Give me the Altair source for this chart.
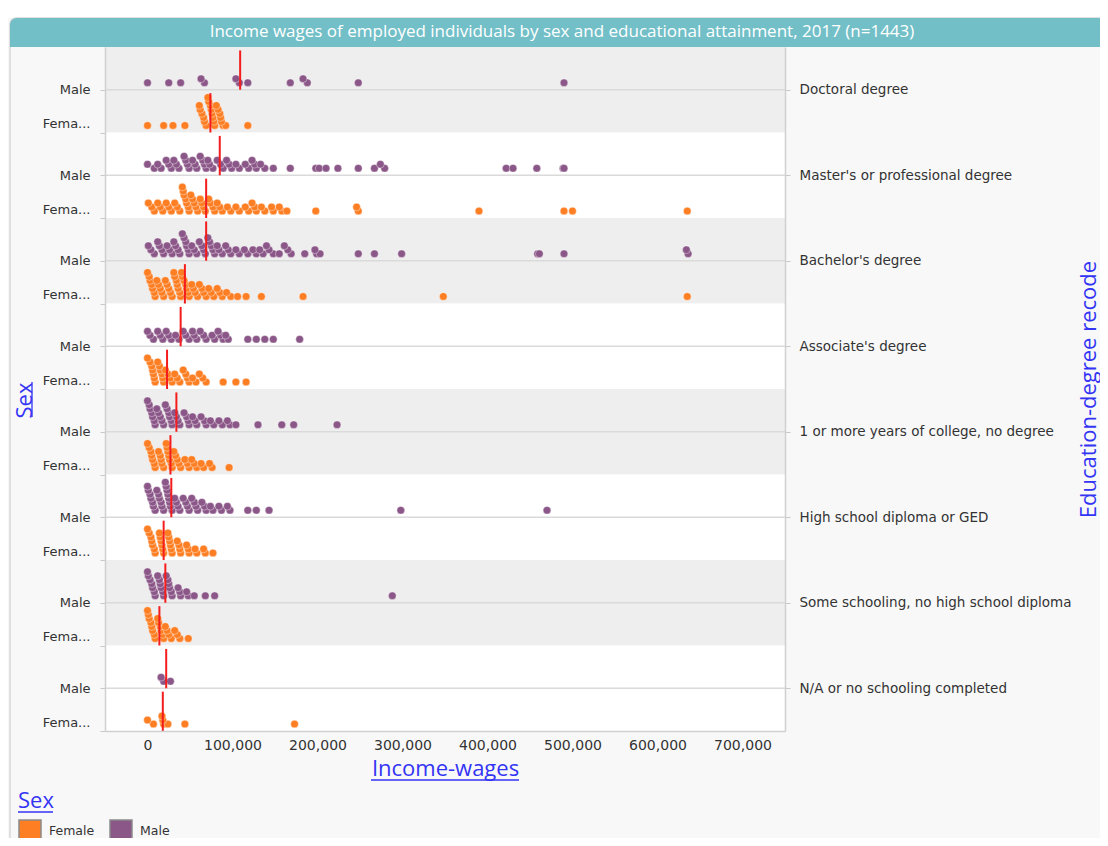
import json
import altair as alt
import pandas as pd

# ---------------- data (incomes in thousands of dollars) ----------------
EDU = [
    "Doctoral degree",
    "Master's or professional degree",
    "Bachelor's degree",
    "Associate's degree",
    "1 or more years of college, no degree",
    "High school diploma or GED",
    "Some schooling, no high school diploma",
    "N/A or no schooling completed",
]
SEX = ["Male", "Female"]

doc_m = [0, 25, 39, 63, 67, 104, 108, 118, 168, 183, 188, 248, 490]
doc_f = [0, 19, 30, 44, 61, 62, 64, 66, 67, 69, 71, 72, 74, 75, 76, 77, 78, 79,
         81, 83, 85, 86, 87, 89, 92, 118]
mas_m = [0, 8, 12, 16, 22, 25, 28, 31, 34, 37, 43, 45, 47, 49, 53, 56, 58, 62, 65,
         67, 69, 71, 73, 77, 82, 86, 89, 93, 96, 99, 104, 108, 115, 119, 123, 126,
         128, 133, 138, 148, 168, 198, 202, 210, 224, 248, 267, 274, 279, 422, 430,
         458, 489, 490]
mas_f = [1, 5, 8, 12, 15, 18, 22, 25, 28, 32, 35, 38, 41, 42, 43, 45, 46, 48, 49,
         51, 53, 55, 57, 59, 62, 64, 66, 68, 72, 74, 77, 79, 82, 85, 88, 94, 98,
         104, 108, 115, 119, 123, 126, 128, 134, 138, 146, 148, 155, 158, 164, 198,
         246, 248, 390, 490, 500, 635]
bac_m = [1, 4, 8, 12, 14, 17, 19, 23, 26, 29, 31, 33, 36, 38, 41, 43, 45, 46, 48,
         49, 52, 55, 58, 61, 64, 66, 68, 71, 73, 75, 77, 79, 82, 84, 88, 92, 95, 98,
         104, 108, 114, 118, 124, 128, 132, 136, 140, 143, 148, 155, 161, 165, 169,
         185, 197, 199, 203, 248, 267, 299, 459, 461, 490, 634, 636]
bac_f = [0, 2, 3, 5, 6, 8, 9, 11, 13, 15, 17, 19, 21, 23, 25, 27, 29, 31, 32, 34,
         35, 36, 38, 39, 40, 41, 43, 45, 46, 48, 49, 52, 54, 56, 59, 61, 64, 66, 69,
         72, 75, 78, 82, 85, 88, 93, 98, 106, 116, 134, 183, 348, 635]
aso_m = [0, 3, 7, 12, 15, 18, 22, 25, 28, 33, 37, 42, 45, 49, 53, 55, 58, 62, 66,
         69, 76, 79, 83, 86, 89, 92, 95, 118, 128, 138, 148, 179]
aso_f = [0, 3, 5, 6, 7, 8, 9, 12, 14, 15, 17, 18, 19, 21, 24, 27, 29, 32, 35, 38,
         42, 45, 47, 49, 53, 57, 61, 65, 69, 89, 104, 116]
col_m = [0, 2, 3, 5, 6, 8, 9, 11, 13, 15, 17, 19, 21, 23, 25, 26, 28, 29, 32, 34,
         36, 38, 43, 46, 48, 49, 53, 56, 58, 63, 67, 69, 74, 78, 84, 88, 94, 97,
         104, 130, 158, 172, 223]
col_f = [0, 2, 4, 5, 6, 8, 9, 13, 15, 16, 17, 19, 22, 23, 24, 25, 26, 28, 29, 31,
         33, 35, 37, 39, 44, 47, 49, 52, 55, 58, 63, 66, 73, 76, 96]
hs_m = [0, 1, 3, 4, 6, 7, 9, 11, 13, 14, 16, 17, 19, 21, 22, 23, 24, 25, 26, 27,
        29, 32, 34, 36, 38, 42, 45, 47, 49, 52, 55, 57, 59, 64, 67, 69, 74, 77, 84,
        87, 94, 97, 118, 128, 143, 298, 470]
hs_f = [0, 2, 4, 5, 6, 8, 9, 14, 15, 16, 17, 18, 19, 24, 25, 26, 27, 28, 29, 35,
        37, 38, 39, 46, 48, 49, 56, 58, 66, 68, 77]
some_m = [0, 1, 3, 5, 6, 8, 9, 12, 14, 15, 16, 18, 19, 22, 24, 25, 26, 28, 29, 36,
          38, 39, 46, 48, 55, 68, 79, 288]
some_f = [0, 1, 2, 4, 5, 6, 8, 9, 12, 13, 15, 16, 18, 19, 21, 23, 25, 28, 32, 35,
          38, 48]
na_m = [16, 19, 27]
na_f = [0, 7, 17, 18, 19, 24, 44, 173]

median_male = [109, 85, 69, 39, 34, 28, 21, 22]
median_female = [74, 69, 44, 23, 27, 19, 14, 18]

X_TICKS = [0, 100000, 200000, 300000, 400000, 500000, 600000, 700000]

GROUPS = [
    (doc_m, doc_f), (mas_m, mas_f), (bac_m, bac_f), (aso_m, aso_f),
    (col_m, col_f), (hs_m, hs_f), (some_m, some_f), (na_m, na_f),
]

# ---------------- styling constants ----------------
W, H = 680, 684
UNIT = H / 16.0           # pixels per sub-row
BASE_PX = 7               # first dot centre above the sub-row line
STEP_PX = 4               # vertical step of stacked dots
BIN = 10000               # stacking bin width (dollars)
RULE_FRAC = 0.92
ORANGE = "#fd7e23"
PURPLE = "#8b5688"
BLUE = "#3434f4"
TXT = "#333333"
LABEL_FONT = "DejaVu Sans"
TITLE_FONT = "Open Sans"

rows = []
for i, e in enumerate(EDU):
    for j, s in enumerate(SEX):
        for v in GROUPS[i][j]:
            rows.append({"edu": e, "sex": s, "row": 2 * i + j + 1, "income": v * 1000})
df = pd.DataFrame(rows)

med_rows = []
for i, e in enumerate(EDU):
    med_rows.append({"edu": e, "sex": "Male", "row": 2 * i + 1, "income": median_male[i] * 1000})
    med_rows.append({"edu": e, "sex": "Female", "row": 2 * i + 2, "income": median_female[i] * 1000})
med_df = pd.DataFrame(med_rows)

band_df = pd.DataFrame([
    {"top": 2 * i, "bottom": 2 * i + 2, "fillc": "#eeeeee" if i % 2 == 0 else "#ffffff"}
    for i in range(len(EDU))
])
line_df = pd.DataFrame([{"y": 2 * i + 1} for i in range(len(EDU))])

xscale = alt.Scale(domain=[-50000, 750000], nice=False, zero=False)
yscale = alt.Scale(domain=[0, 16], reverse=True, nice=False, zero=False)

xaxis = alt.Axis(
    values=X_TICKS, labelExpr="format(datum.value, ',')",
    grid=False, ticks=False, labelPadding=7,
    labelFont=LABEL_FONT, labelFontSize=14, labelColor=TXT,
    domainColor="#d0d0d0", domainWidth=1.5,
    title="Income-wages", titleFont=TITLE_FONT, titleFontSize=22,
    titleFontWeight="normal", titleColor=BLUE, titlePadding=6, zindex=1,
)

left_axis = alt.Axis(
    orient="left", values=list(range(1, 17)), grid=False,
    labelExpr="datum.value % 2 == 1 ? 'Male' : 'Fema...'",
    labelOffset={"condition": {"test": "datum.value % 2 == 0", "value": -9}, "value": 0},
    labelFont=LABEL_FONT, labelFontSize=13, labelColor=TXT, labelPadding=10,
    tickSize=5, tickColor="#c8c8c8", domainColor="#d0d0d0", domainWidth=1.5,
    title="Sex", titleFont=TITLE_FONT, titleFontSize=22, titleFontWeight="normal",
    titleColor=BLUE, titleAngle=270, titleX=-81, titleY=353,
    titleAlign="center", titleBaseline="middle", zindex=1,
)

right_axis = alt.Axis(
    orient="right", values=[2 * i + 1 for i in range(len(EDU))], grid=False,
    labelExpr=json.dumps(EDU) + "[(datum.value - 1) / 2]", labelLimit=400,
    labelFont=LABEL_FONT, labelFontSize=13.5, labelColor=TXT, labelPadding=9,
    tickSize=5, tickColor="#c8c8c8", domainColor="#d0d0d0", domainWidth=1.5,
    title="Education-degree recode", titleFont=TITLE_FONT, titleFontSize=22,
    titleFontWeight="normal", titleColor=BLUE, titleAngle=270,
    titleX=303, titleY=H / 2, titleAlign="center", titleBaseline="middle", zindex=1,
)

legend = alt.Legend(
    title="Sex", orient="none", legendX=-87, legendY=744, direction="horizontal",
    symbolType="square", symbolSize=484, symbolStrokeColor="#8a8a8a",
    symbolStrokeWidth=1.5, symbolOpacity=1,
    titleFont=TITLE_FONT, titleFontSize=22, titleFontWeight="normal", titleColor=BLUE,
    titlePadding=6, labelFont=LABEL_FONT, labelFontSize=12.5, labelColor=TXT,
    labelOffset=7, columnPadding=12,
)

one = alt.Data(values=[{"k": 1}])

top_strip = alt.Chart(one).mark_rect(fill="white").encode(
    x=alt.value(-110), x2=alt.value(1000), y=alt.value(-45), y2=alt.value(-29)
)
panel_border = alt.Chart(one).mark_rect(
    fill=None, stroke="#d6d6d6", strokeWidth=1.5, cornerRadius=6
).encode(x=alt.value(-95), x2=alt.value(1000), y=alt.value(-29), y2=alt.value(820))
title_bar = alt.Chart(one).mark_rect(
    fill="#72bfc8", cornerRadiusTopLeft=7, cornerRadiusTopRight=7
).encode(x=alt.value(-95), x2=alt.value(1000), y=alt.value(-29), y2=alt.value(0))
title_text = alt.Chart(one).mark_text(
    text="Income wages of employed individuals by sex and educational attainment, 2017 (n=1443)",
    color="white", font=TITLE_FONT, fontSize=17, align="center", baseline="middle",
).encode(x=alt.value(457), y=alt.value(-15))

# underlines of the link-style titles
ul_x = alt.Chart(one).mark_rule(color=BLUE, strokeWidth=1.3).encode(
    x=alt.value(266), x2=alt.value(414), y=alt.value(733))
ul_sex = alt.Chart(one).mark_rule(color=BLUE, strokeWidth=1.3).encode(
    x=alt.value(-73), y=alt.value(335), y2=alt.value(370))
ul_leg = alt.Chart(one).mark_rule(color=BLUE, strokeWidth=1.3).encode(
    x=alt.value(-87), x2=alt.value(-52), y=alt.value(765))

bands = alt.Chart(band_df).mark_rect().encode(
    y=alt.Y("top:Q", scale=yscale, axis=None),
    y2="bottom:Q",
    x=alt.value(0), x2=alt.value(W),
    fill=alt.Fill("fillc:N", scale=None),
)

lines = alt.Chart(line_df).mark_rule(color="#dadada", strokeWidth=1.5).encode(
    y=alt.Y("y:Q", scale=yscale, axis=right_axis),
    x=alt.value(0), x2=alt.value(W),
)

dots = alt.Chart(df).transform_calculate(
    b=f"floor(datum.income / {BIN})"
).transform_window(
    rank="row_number()", groupby=["row", "b"],
    sort=[alt.SortField("income", order="descending")],
).transform_calculate(
    ypos=f"datum.row - ({BASE_PX} + (datum.rank - 1) * {STEP_PX}) / {UNIT}"
).mark_circle(
    size=60, opacity=1, stroke="white", strokeWidth=0.8, strokeOpacity=0.5
).encode(
    x=alt.X("income:Q", scale=xscale, axis=xaxis),
    y=alt.Y("ypos:Q", scale=yscale, axis=left_axis),
    color=alt.Color("sex:N", scale=alt.Scale(domain=["Female", "Male"], range=[ORANGE, PURPLE]),
                    legend=legend),
    order=alt.Order("rank:Q"),
)

medians = alt.Chart(med_df).transform_calculate(
    top=f"datum.row - {RULE_FRAC}"
).mark_rule(color="#f41c1c", strokeWidth=2).encode(
    x=alt.X("income:Q", scale=xscale, axis=xaxis),
    y=alt.Y("top:Q", scale=yscale, axis=None),
    y2="row:Q",
)

chart = alt.layer(
    top_strip, panel_border, title_bar, title_text, ul_x, ul_sex, ul_leg,
    bands, lines, dots, medians
).resolve_scale(y="independent").properties(
    width=W, height=H,
    padding={"left": 97, "top": 39, "right": 315, "bottom": 107},
    autosize=alt.AutoSizeParams(type="none"),
    background="#f8f8f8",
).configure_view(stroke=None)

chart.save("out.html", embed_options={"renderer": "svg", "actions": False})
